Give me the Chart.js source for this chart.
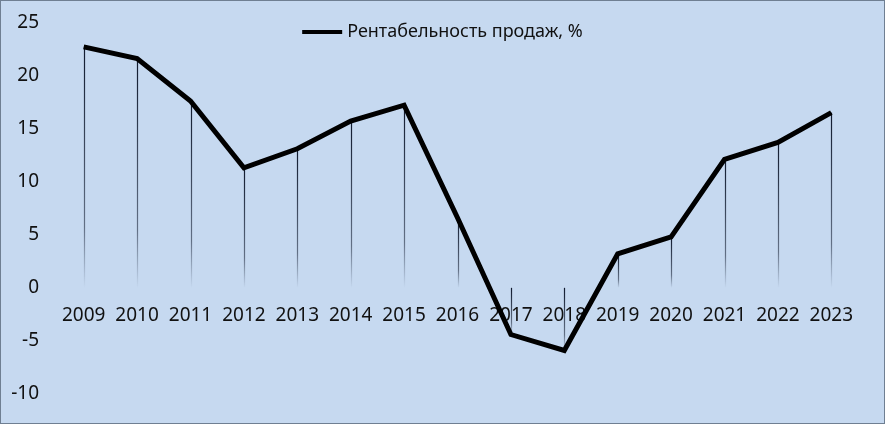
<!DOCTYPE html>
<html>
<head>
<meta charset="utf-8">
<script src="https://cdn.jsdelivr.net/npm/chart.js@4"></script>
<style>
  html, body { margin: 0; padding: 0; background: #c6d9f0; }
  #wrap { width: 883px; height: 422px; border: 1px solid #6f7f92; }
</style>
</head>
<body>
<div id="wrap"><canvas id="chart" width="883" height="422"></canvas></div>
<script>
const years = ["2009", "2010", "2011", "2012", "2013", "2014", "2015", "2016",
  "2017", "2018", "2019", "2020", "2021", "2022", "2023"];
const margin = [22.7, 21.6, 17.6, 11.3, 13.1, 15.7, 17.2, 6.6,
  -4.4, -5.9, 3.2, 4.8, 12.1, 13.7, 16.5];
const seriesName = "Рентабельность продаж, %";

const fontFamily = "'Noto Sans', sans-serif";
const font = { family: fontFamily, size: 19 };

// vertical drop lines from each point to zero, fading downwards
const dropLines = {
  id: "dropLines",
  beforeDatasetsDraw(chart) {
    const ctx = chart.ctx;
    const zero = chart.scales.y.getPixelForValue(0);
    chart.getDatasetMeta(0).data.forEach(pt => {
      const top = Math.min(pt.y, zero);
      const bottom = Math.max(pt.y, zero);
      if (bottom - top < 2) return;
      const g = ctx.createLinearGradient(0, top, 0, bottom);
      g.addColorStop(0, "rgba(15,25,45,1)");
      g.addColorStop(0.75, "rgba(15,25,45,0.55)");
      g.addColorStop(1, "rgba(15,25,45,0)");
      ctx.save();
      ctx.strokeStyle = g;
      ctx.lineWidth = 1.2;
      ctx.beginPath();
      ctx.moveTo(Math.round(pt.x) + 0.5, top);
      ctx.lineTo(Math.round(pt.x) + 0.5, bottom);
      ctx.stroke();
      ctx.restore();
    });
  }
};

// legend overlaid at the top of the plot, like the original
const topLegend = {
  id: "topLegend",
  afterDraw(chart) {
    const ctx = chart.ctx;
    const ds = chart.data.datasets[0];
    ctx.save();
    ctx.font = `18px ${fontFamily}`;
    const textW = ctx.measureText(ds.label).width;
    const sample = 40, gap = 5;
    const total = sample + gap + textW;
    const x0 = (chart.width - total) / 2;
    const y = 31;
    ctx.strokeStyle = ds.borderColor;
    ctx.lineWidth = 4;
    ctx.beginPath();
    ctx.moveTo(x0, y);
    ctx.lineTo(x0 + sample, y);
    ctx.stroke();
    ctx.fillStyle = "#111";
    ctx.textBaseline = "middle";
    ctx.textAlign = "left";
    ctx.fillText(ds.label, x0 + sample + gap, y);
    ctx.restore();
  }
};

new Chart(document.getElementById("chart"), {
  type: "line",
  data: {
    labels: years,
    datasets: [{
      label: seriesName,
      data: margin,
      borderColor: "#000",
      backgroundColor: "#000",
      borderWidth: 5,
      tension: 0,
      pointRadius: 0,
      borderJoinStyle: "miter"
    }]
  },
  options: {
    responsive: false,
    animation: false,
    layout: { padding: { top: 19, bottom: 29, left: 0, right: 26 } },
    plugins: {
      tooltip: { enabled: false },
      legend: { display: false }
    },
    scales: {
      x: {
        position: { y: 0 },
        offset: true,
        grid: { display: false, drawTicks: false },
        border: { display: false },
        ticks: { color: "#111", font: font, padding: 16, maxRotation: 0 }
      },
      y: {
        min: -10,
        max: 25,
        grid: { display: false },
        border: { display: false },
        ticks: { color: "#111", font: font, stepSize: 5, padding: 10 },
        afterFit(scale) { scale.width = 56; }
      }
    }
  },
  plugins: [dropLines, topLegend]
});
</script>
</body>
</html>
